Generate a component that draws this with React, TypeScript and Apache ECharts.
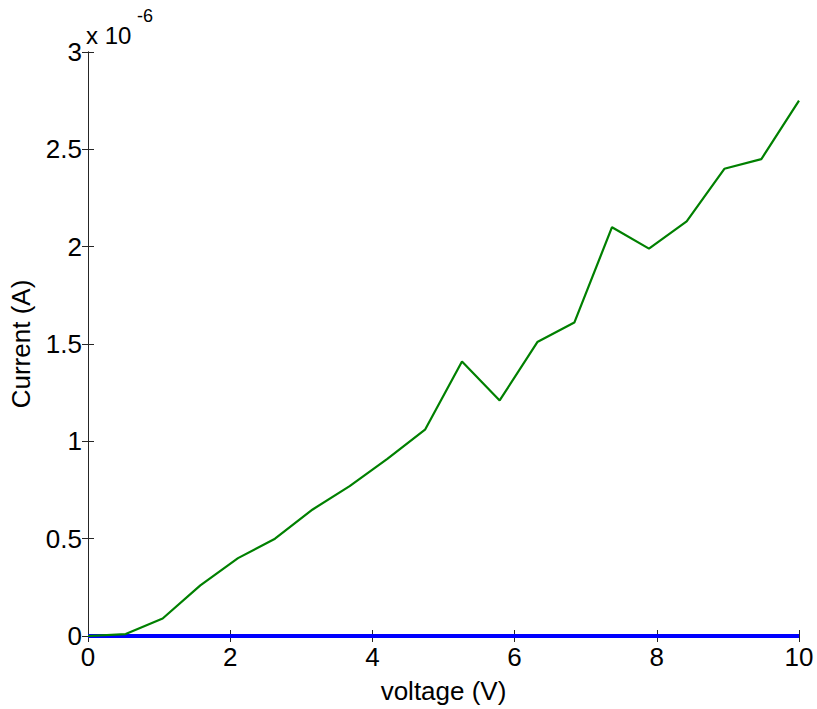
import React, { useEffect, useRef } from "react";
import * as echarts from "echarts";

// voltage sweep (V)
const voltage = [0, 0.53, 1.05, 1.58, 2.11, 2.63, 3.16, 3.68, 4.21, 4.74, 5.26, 5.79, 6.32, 6.84, 7.37, 7.89, 8.42, 8.95, 9.47, 10];
// current in units of 1e-6 A (green series)
const currentGreen = [0, 0.01, 0.09, 0.26, 0.4, 0.5, 0.65, 0.77, 0.91, 1.06, 1.41, 1.21, 1.51, 1.61, 2.1, 1.99, 2.13, 2.4, 2.45, 2.75];
// current in units of 1e-6 A (blue series, ~zero)
const currentBlue = [0, 0, 0, 0, 0, 0, 0, 0, 0, 0, 0, 0, 0, 0, 0, 0, 0, 0, 0, 0];
const yTicks = ["0", "0.5", "1", "1.5", "2", "2.5", "3"];

const FONT = "'Liberation Sans', Arial, sans-serif";
const FS = 26;

export default function App() {
  const ref = useRef<HTMLDivElement>(null);
  useEffect(() => {
    if (!ref.current) return;
    const chart = echarts.init(ref.current, undefined, { renderer: "svg" });
    const axisLine = { show: true, lineStyle: { color: "#262626", width: 1 } };
    const tick = { show: true, inside: true, length: 6, lineStyle: { color: "#262626", width: 1 } };
    chart.setOption({
      animation: false,
      backgroundColor: "#ffffff",
      grid: { left: 88, right: 18, top: 52, bottom: 71, containLabel: false },
      xAxis: [
        {
          type: "value",
          min: 0,
          max: 10,
          interval: 2,
          name: "voltage (V)",
          nameLocation: "middle",
          nameGap: 42,
          nameTextStyle: { fontFamily: FONT, fontSize: FS, color: "#000" },
          axisLine,
          axisTick: tick,
          axisLabel: { fontFamily: FONT, fontSize: FS, color: "#000", margin: 8 },
          splitLine: { show: false },
        },
        {
          type: "value",
          position: "top",
          min: 0,
          max: 10,
          interval: 2,
          axisLine,
          axisTick: tick,
          axisLabel: { show: false },
          splitLine: { show: false },
        },
      ],
      yAxis: [
        {
          type: "value",
          min: 0,
          max: 3,
          interval: 0.5,
          name: "Current (A)",
          nameLocation: "middle",
          nameGap: 54,
          nameTextStyle: { fontFamily: FONT, fontSize: FS, color: "#000" },
          axisLine,
          axisTick: tick,
          axisLabel: {
            fontFamily: FONT,
            fontSize: FS,
            color: "#000",
            margin: 6,
            formatter: (v: number) => yTicks[Math.round(v / 0.5)] ?? String(v),
          },
          splitLine: { show: false },
        },
        {
          type: "value",
          position: "right",
          min: 0,
          max: 3,
          interval: 0.5,
          axisLine,
          axisTick: tick,
          axisLabel: { show: false },
          splitLine: { show: false },
        },
      ],
      graphic: [
        {
          type: "text",
          x: 86,
          y: 23,
          style: { text: "x 10", fontFamily: FONT, fontSize: 24, fill: "#000" },
        },
        {
          type: "text",
          x: 137,
          y: 7,
          style: { text: "-6", fontFamily: FONT, fontSize: 18, fill: "#000" },
        },
      ],
      series: [
        {
          type: "line",
          data: voltage.map((v, i) => [v, currentBlue[i]]),
          showSymbol: false,
          lineStyle: { color: "#0000ff", width: 4 },
          z: 2,
        },
        {
          type: "line",
          data: voltage.map((v, i) => [v, currentGreen[i]]),
          showSymbol: false,
          lineStyle: { color: "#008000", width: 2.2 },
          z: 3,
        },
      ],
    });
    return () => chart.dispose();
  }, []);
  return (
    <div
      ref={ref}
      style={{ position: "absolute", left: 0, top: 0, width: 817, height: 709, overflow: "hidden" }}
    />
  );
}
